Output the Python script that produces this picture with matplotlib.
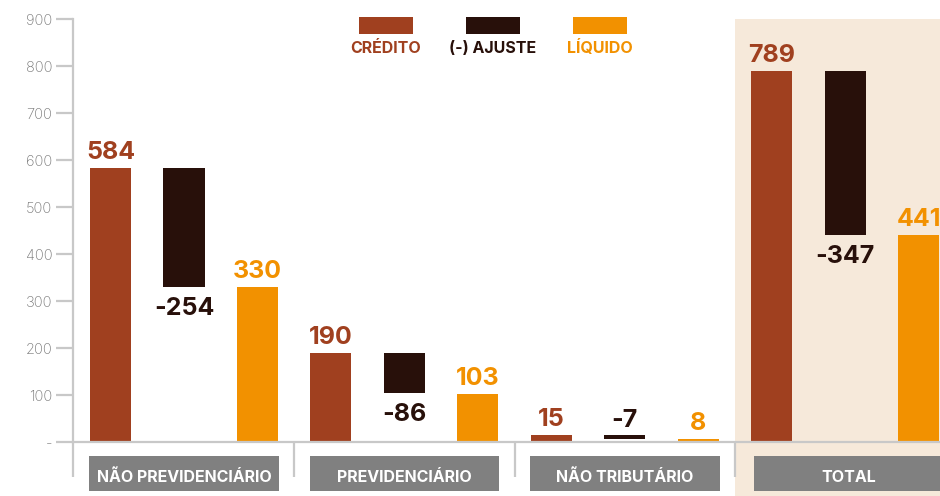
import numpy as np
from matplotlib import pyplot as plt
from matplotlib.patches import Rectangle
from matplotlib import transforms

plt.rcParams["font.family"] = ["Inter", "DejaVu Sans"]

# dados (R$ bilhões)
categorias = ["NÃO PREVIDENCIÁRIO", "PREVIDENCIÁRIO", "NÃO TRIBUTÁRIO", "TOTAL"]
credito = [584, 190, 15, 789]
ajuste = [-254, -86, -7, -347]
liquido = [330, 103, 8, 441]
series = ["CRÉDITO", "(-) AJUSTE", "LÍQUIDO"]
yticks = [0, 100, 200, 300, 400, 500, 600, 700, 800, 900]

cores = ["#A0401F", "#28100A", "#F29100"]
cinza = "#C8C8C8"
fundo_total = "#F6E9DA"

W, H = 940, 496
fig = plt.figure(figsize=(W / 100, H / 100), dpi=100)
ax = fig.add_axes([73 / W, 53.7 / H, 867 / W, 423 / H])
ax.set_xlim(-0.51, 11.29)
ax.set_ylim(0, 900)

larg = 0.56
x0 = np.arange(len(categorias)) * 3

# barras
ax.bar(x0, credito, width=larg, color=cores[0], zorder=3)
base_aj = np.array(credito) + np.array(ajuste)
ax.bar(x0 + 1, -np.array(ajuste), bottom=base_aj, width=larg, color=cores[1], zorder=3)
ax.bar(x0 + 2, liquido, width=larg, color=cores[2], zorder=3)

# rótulos de valor (offsets em pontos, baseline)
fs = 18
kw = dict(textcoords="offset points", ha="center", va="baseline", fontsize=fs, fontweight="bold")
for i in range(len(categorias)):
    ax.annotate(f"{credito[i]}", (x0[i], credito[i]), xytext=(0, 6.5), color=cores[0], **kw)
    ax.annotate(f"{liquido[i]}", (x0[i] + 2, liquido[i]), xytext=(0, 6.5), color=cores[2], **kw)
    if base_aj[i] < 50:
        # barra muito pequena: rótulo acima
        ax.annotate(f"{ajuste[i]}", (x0[i] + 1, credito[i]), xytext=(0, 5.8), color=cores[1], **kw)
    else:
        ax.annotate(f"{ajuste[i]}", (x0[i] + 1, base_aj[i]), xytext=(0, -20.2), color=cores[1], **kw)

# eixos
for s in ["top", "right"]:
    ax.spines[s].set_visible(False)
for s in ["left", "bottom"]:
    ax.spines[s].set_color(cinza)
    ax.spines[s].set_linewidth(1.6)
    ax.spines[s].set_zorder(4)
ax.set_yticks(yticks)
ax.set_yticklabels(["-" if v == 0 else str(v) for v in yticks])
ax.tick_params(axis="y", length=12, width=1.6, color=cinza, pad=3,
               labelsize=10.5, labelcolor="#777777")
for lbl in ax.get_yticklabels():
    lbl.set_fontweight("light")
ax.set_xticks([])

trans = transforms.blended_transform_factory(ax.transData, ax.transAxes)

# fundo do total
ax.add_patch(Rectangle((8.5, -0.13), 3, 1.13, transform=trans, color=fundo_total,
                       zorder=0, clip_on=False, lw=0))

# separadores e caixas das categorias
for xs in [-0.51, 2.5, 5.5, 8.5]:
    ax.plot([xs, xs], [0, -0.082], transform=trans, color=cinza, lw=1.6,
            clip_on=False, zorder=4, solid_capstyle="butt")
for i, nome in enumerate(categorias):
    desl = 0.05 if i == 3 else 0
    ax.add_patch(Rectangle((x0[i] - 0.29 + desl, -0.115), 2.58, 0.083, transform=trans,
                           color="#808080", clip_on=False, zorder=4, lw=0))
    ax.text(x0[i] + 1 + desl, -0.0939, nome, transform=trans, ha="center",
            va="baseline", fontsize=11.5, fontweight="bold", color="white", zorder=5)

# legenda
leg_x = [386, 493, 600]
for cx, nome, cor in zip(leg_x, series, cores):
    fig.patches.append(Rectangle(((cx - 27) / W, 1 - 34 / H), 54 / W, 17 / H,
                                 transform=fig.transFigure, color=cor, lw=0))
    fig.text(cx / W, 1 - 53.3 / H, nome, ha="center", va="baseline", fontsize=11.5,
             fontweight="bold", color=cor)

fig.savefig("out.png", dpi=100)
